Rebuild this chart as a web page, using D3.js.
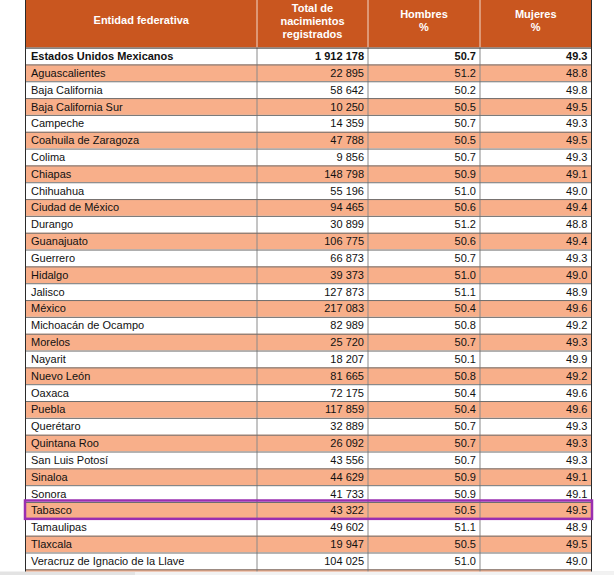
<!DOCTYPE html>
<html>
<head>
<meta charset="utf-8">
<script src="https://cdn.jsdelivr.net/npm/d3@7"></script>
<style>
  html, body { margin: 0; padding: 0; background: #fff; }
  svg { display: block; }
  text { font-family: "Liberation Sans", Arial, sans-serif; }
</style>
</head>
<body>
<div id="chart"></div>
<script>
// ---- data ----
const entidades = [
  "Estados Unidos Mexicanos", "Aguascalientes", "Baja California", "Baja California Sur",
  "Campeche", "Coahuila de Zaragoza", "Colima", "Chiapas", "Chihuahua", "Ciudad de México",
  "Durango", "Guanajuato", "Guerrero", "Hidalgo", "Jalisco", "México", "Michoacán de Ocampo",
  "Morelos", "Nayarit", "Nuevo León", "Oaxaca", "Puebla", "Querétaro", "Quintana Roo",
  "San Luis Potosí", "Sinaloa", "Sonora", "Tabasco", "Tamaulipas", "Tlaxcala",
  "Veracruz de Ignacio de la Llave", "Yucatán"
];
const totalNacimientos = [
  1912178, 22895, 58642, 10250, 14359, 47788, 9856, 148798, 55196, 94465,
  30899, 106775, 66873, 39373, 127873, 217083, 82989, 25720, 18207, 81665,
  72175, 117859, 32889, 26092, 43556, 44629, 41733, 43322, 49602, 19947,
  104025, null
];
const hombresPct = [
  50.7, 51.2, 50.2, 50.5, 50.7, 50.5, 50.7, 50.9, 51.0, 50.6,
  51.2, 50.6, 50.7, 51.0, 51.1, 50.4, 50.8, 50.7, 50.1, 50.8,
  50.4, 50.4, 50.7, 50.7, 50.7, 50.9, 50.9, 50.5, 51.1, 50.5,
  51.0, null
];
const mujeresPct = [
  49.3, 48.8, 49.8, 49.5, 49.3, 49.5, 49.3, 49.1, 49.0, 49.4,
  48.8, 49.4, 49.3, 49.0, 48.9, 49.6, 49.2, 49.3, 49.9, 49.2,
  49.6, 49.6, 49.3, 49.3, 49.3, 49.1, 49.1, 49.5, 48.9, 49.5,
  49.0, null
];
const columnas = ["Entidad federativa", "Total de nacimientos registrados", "Hombres %", "Mujeres %"];
const encabezados = [["Entidad federativa"], ["Total de", "nacimientos", "registrados"], ["Hombres", "%"], ["Mujeres", "%"]];
const resaltado = "Tabasco";

// ---- layout ----
const W = 614, H = 575;
const colEdges = [25.5, 257, 368, 480, 591.5];
const headerTop = -6, headerBottom = 47.6;
const rowH = 16.83;

const svg = d3.select("#chart").append("svg").attr("width", W).attr("height", H);

const x = d3.scaleOrdinal().domain(columnas).range(colEdges.slice(0, 4));
const xEnd = d3.scaleOrdinal().domain(columnas).range(colEdges.slice(1));
const y = d3.scaleBand().domain(entidades)
  .range([headerBottom, headerBottom + rowH * entidades.length]).paddingInner(0).paddingOuter(0);

const fmtInt = n => d3.format(",")(n).replace(/,/g, " ");
const fmtPct = d3.format(".1f");

const rows = entidades.map((e, i) => ({
  name: e, i,
  visible: totalNacimientos[i] != null,
  vals: [e, totalNacimientos[i] == null ? "" : fmtInt(totalNacimientos[i]),
         hombresPct[i] == null ? "" : fmtPct(hombresPct[i]),
         mujeresPct[i] == null ? "" : fmtPct(mujeresPct[i])]
}));

// header background
svg.append("rect").attr("x", colEdges[0]).attr("y", headerTop)
  .attr("width", colEdges[4] - colEdges[0]).attr("height", headerBottom - headerTop)
  .attr("fill", "#C9561F");

// row backgrounds
svg.append("g").selectAll("rect").data(rows).join("rect")
  .attr("x", colEdges[0]).attr("y", d => y(d.name))
  .attr("width", colEdges[4] - colEdges[0]).attr("height", y.bandwidth())
  .attr("fill", d => d.i % 2 === 1 ? "#F8AF8A" : "#FFFFFF");

// header column separators (light)
svg.append("g").selectAll("line").data(colEdges.slice(1, 4)).join("line")
  .attr("x1", d => d).attr("x2", d => d).attr("y1", headerTop).attr("y2", headerBottom)
  .attr("stroke", "#F3D9CC").attr("stroke-width", 1);

// body column separators
svg.append("g").selectAll("line").data(colEdges.slice(1, 4)).join("line")
  .attr("x1", d => d).attr("x2", d => d).attr("y1", headerBottom).attr("y2", H)
  .attr("stroke", "#8a8a8a").attr("stroke-width", 1);

// horizontal row lines
svg.append("g").selectAll("line").data(rows).join("line")
  .attr("x1", colEdges[0]).attr("x2", colEdges[4])
  .attr("y1", d => y(d.name) + 0.5).attr("y2", d => y(d.name) + 0.5)
  .attr("stroke", d => d.i === 0 ? "#333" : "#6e6e6e").attr("stroke-width", 1);

// outer vertical borders
svg.append("g").selectAll("line").data([colEdges[0], colEdges[4]]).join("line")
  .attr("x1", d => d).attr("x2", d => d).attr("y1", headerTop).attr("y2", H)
  .attr("stroke", "#2b2b2b").attr("stroke-width", 1);

// header text
const hg = svg.append("g");
encabezados.forEach((lines, c) => {
  const cx = (colEdges[c] + colEdges[c + 1]) / 2;
  const lh = 13;
  const y0 = lines.length === 1 ? 23.5 : (lines.length === 3 ? 12 : 17.5);
  lines.forEach((t, k) => {
    hg.append("text").attr("x", cx).attr("y", y0 + k * lh)
      .attr("text-anchor", "middle").attr("fill", "#fff")
      .attr("font-size", 11).attr("font-weight", "bold").text(t);
  });
});

// cell texts (the last row is cut off by the bottom of the view)
const tg = svg.append("g");
rows.filter(r => r.visible).forEach(r => {
  r.vals.forEach((v, c) => {
    const col = columnas[c];
    tg.append("text")
      .attr("x", c === 0 ? x(col) + 5.5 : xEnd(col) - 4)
      .attr("y", y(r.name) + y.bandwidth() / 2 + 4)
      .attr("text-anchor", c === 0 ? "start" : "end")
      .attr("font-size", 11)
      .attr("font-weight", r.i === 0 ? "bold" : "normal")
      .attr("fill", "#111").text(v);
  });
});

// highlight
const hy = y(resaltado);
svg.append("rect").attr("x", colEdges[0] - 0.5).attr("y", hy - 1.5)
  .attr("width", colEdges[4] - colEdges[0] + 1).attr("height", y.bandwidth() + 1.5)
  .attr("fill", "none").attr("stroke", "#9A2FB0").attr("stroke-width", 2.5);

// bottom scrollbar strip
svg.append("rect").attr("x", 0).attr("y", 571.5).attr("width", W).attr("height", 4).attr("fill", "#e3e3e3");
svg.append("rect").attr("x", 135).attr("y", 572).attr("width", W - 135).attr("height", 3).attr("fill", "#f2f2f2");
</script>
</body>
</html>
